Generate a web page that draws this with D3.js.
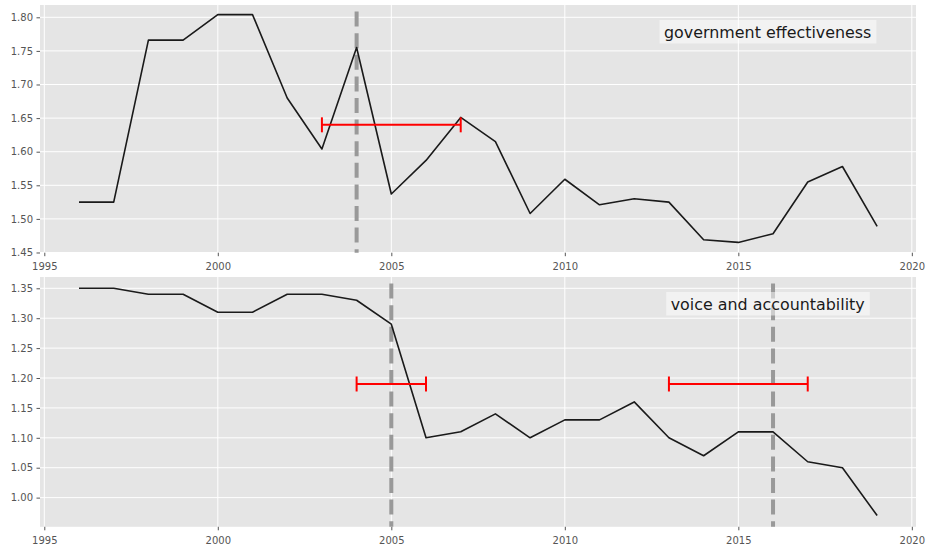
<!DOCTYPE html>
<html>
<head>
<meta charset="utf-8">
<script src="https://cdn.jsdelivr.net/npm/d3@7"></script>
<style>
  html, body { margin: 0; padding: 0; background: #ffffff; }
  svg { display: block; }
  .tick text { font-family: "DejaVu Sans", sans-serif; font-size: 10px; fill: #555555; }
  .tick line { stroke: #555555; }
</style>
</head>
<body>
<svg id="chart" width="929" height="548"></svg>
<script>
// Yearly indicator scores
const years = [1996, 1997, 1998, 1999, 2000, 2001, 2002, 2003, 2004, 2005, 2006, 2007,
               2008, 2009, 2010, 2011, 2012, 2013, 2014, 2015, 2016, 2017, 2018, 2019];

const govEffectiveness = [1.525, 1.525, 1.766, 1.766, 1.804, 1.804, 1.680, 1.604, 1.755, 1.537, 1.587, 1.651,
                          1.615, 1.508, 1.559, 1.521, 1.530, 1.525, 1.469, 1.465, 1.478, 1.555, 1.578, 1.489];

const voiceAccountability = [1.35, 1.35, 1.34, 1.34, 1.31, 1.31, 1.34, 1.34, 1.33, 1.29, 1.10, 1.11,
                             1.14, 1.10, 1.13, 1.13, 1.16, 1.10, 1.07, 1.11, 1.11, 1.06, 1.05, 0.97];

// Detected break years (dashed verticals)
const govBreaks = [2004];
const voiceBreaks = [2005, 2016];

// Break-date confidence intervals: centre year, half-width in years, drawn level
const govIntervals = [{ center: 2005, half: 2, level: 1.64 }];
const voiceIntervals = [
  { center: 2005, half: 1, level: 1.19 },
  { center: 2015, half: 2, level: 1.19 }
];

// Tick values
const xTicks = [1995, 2000, 2005, 2010, 2015, 2020];
const govTicks = [1.45, 1.50, 1.55, 1.60, 1.65, 1.70, 1.75, 1.80];
const voiceTicks = [1.00, 1.05, 1.10, 1.15, 1.20, 1.25, 1.30, 1.35];

const svg = d3.select("#chart");

function drawPanel(cfg) {
  const { top, bottom, left, right, xDomain, yDomain, values, breaks, intervals, yTicks, label, labelX } = cfg;

  const x = d3.scaleLinear().domain(xDomain).range([left, right]);
  const y = d3.scaleLinear().domain(yDomain).range([bottom, top]);

  const g = svg.append("g");

  // Panel background
  g.append("rect")
    .attr("x", left).attr("y", top)
    .attr("width", right - left).attr("height", bottom - top)
    .attr("fill", "#e5e5e5");

  // Grid
  g.append("g").selectAll("line").data(yTicks).join("line")
    .attr("x1", left).attr("x2", right)
    .attr("y1", d => y(d)).attr("y2", d => y(d))
    .attr("stroke", "#ffffff").attr("stroke-width", 1);
  g.append("g").selectAll("line").data(xTicks).join("line")
    .attr("x1", d => x(d)).attr("x2", d => x(d))
    .attr("y1", top).attr("y2", bottom)
    .attr("stroke", "#ffffff").attr("stroke-width", 1);

  // Axes
  const yAxis = d3.axisLeft(y).tickValues(yTicks).tickFormat(d3.format(".2f"))
    .tickSize(3.5).tickPadding(3.5);
  g.append("g").attr("transform", `translate(${left},0)`).call(yAxis)
    .call(a => a.select(".domain").remove());

  const xAxis = d3.axisBottom(x).tickValues(xTicks).tickFormat(d3.format("d"))
    .tickSize(3.5).tickPadding(7);
  g.append("g").attr("transform", `translate(0,${bottom})`).call(xAxis)
    .call(a => a.select(".domain").remove());

  // Break lines
  g.append("g").selectAll("line").data(breaks).join("line")
    .attr("x1", d => x(d)).attr("x2", d => x(d))
    .attr("y1", top).attr("y2", bottom)
    .attr("stroke", "#999999").attr("stroke-width", 4)
    .attr("stroke-dasharray", "15,6.6")
    .attr("stroke-dashoffset", 15);

  // Series line
  const line = d3.line().x((d, i) => x(years[i])).y(d => y(d));
  g.append("path").datum(values)
    .attr("d", line)
    .attr("fill", "none")
    .attr("stroke", "#1a1a1a")
    .attr("stroke-width", 1.6)
    .attr("stroke-linejoin", "round");

  // Confidence intervals
  const ci = g.append("g").selectAll("g").data(intervals).join("g");
  ci.append("line")
    .attr("x1", d => x(d.center - d.half)).attr("x2", d => x(d.center + d.half))
    .attr("y1", d => y(d.level)).attr("y2", d => y(d.level))
    .attr("stroke", "#ff0000").attr("stroke-width", 2);
  ci.selectAll("line.cap").data(d => [d.center - d.half, d.center + d.half].map(v => ({ v, level: d.level })))
    .join("line").attr("class", "cap")
    .attr("x1", d => x(d.v)).attr("x2", d => x(d.v))
    .attr("y1", d => y(d.level) - 7.5).attr("y2", d => y(d.level) + 7.5)
    .attr("stroke", "#ff0000").attr("stroke-width", 2);

  // Panel label with translucent box
  const tg = g.append("g");
  const txt = tg.append("text")
    .attr("x", labelX).attr("y", top + 32.5)
    .attr("font-family", "DejaVu Sans, sans-serif")
    .attr("font-size", 15.9)
    .attr("fill", "#1a1a1a")
    .text(label);
  const w = txt.node().getComputedTextLength();
  tg.insert("rect", "text")
    .attr("x", labelX - 4.5).attr("y", top + 15)
    .attr("width", w + 9.5).attr("height", 23.5)
    .attr("fill", "#ffffff").attr("fill-opacity", 0.5);
}

const xDomain = [1994.876, 2020.12];

drawPanel({
  top: 5, bottom: 252.7, left: 40, right: 916,
  xDomain, yDomain: [1.4497, 1.8183],
  values: govEffectiveness, breaks: govBreaks, intervals: govIntervals,
  yTicks: govTicks, label: "government effectiveness", labelX: 664
});

drawPanel({
  top: 277, bottom: 526.8, left: 40, right: 916,
  xDomain, yDomain: [0.9512, 1.3689],
  values: voiceAccountability, breaks: voiceBreaks, intervals: voiceIntervals,
  yTicks: voiceTicks, label: "voice and accountability", labelX: 670.7
});
</script>
</body>
</html>
